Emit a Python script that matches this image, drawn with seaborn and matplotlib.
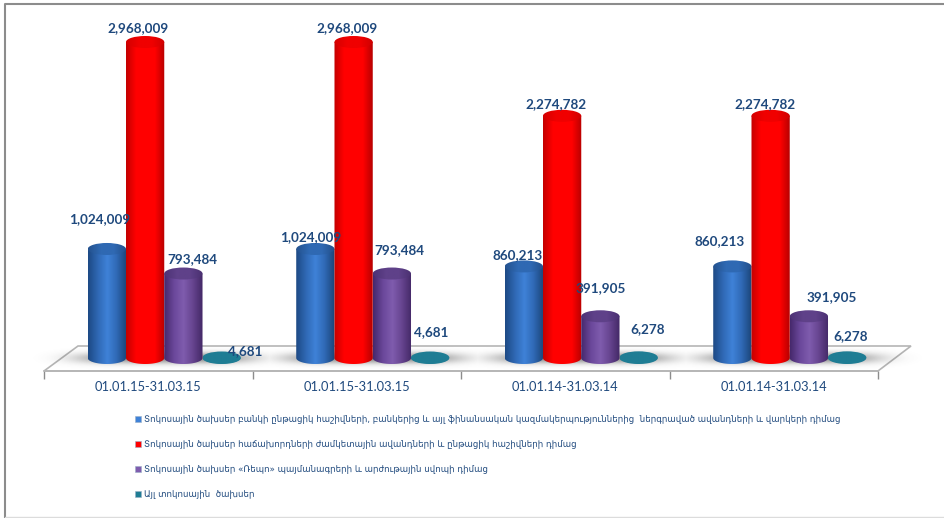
import numpy as np
import pandas as pd
import seaborn as sns
import matplotlib.pyplot as plt
from matplotlib.colors import LinearSegmentedColormap
from matplotlib.patches import Ellipse, PathPatch, Polygon, Patch
from matplotlib.path import Path

# data
periods = ["01.01.15-31.03.15", "01.01.15-31.03.15", "01.01.14-31.03.14", "01.01.14-31.03.14"]
series_names = [
    "Տոկոսային ծախսեր բանկի ընթացիկ հաշիվների, բանկերից և այլ ֆինանսական կազմակերպություններից  ներգրաված ավանդների և վարկերի դիմաց",
    "Տոկոսային ծախսեր հաճախորդների ժամկետային ավանդների և ընթացիկ հաշիվների դիմաց",
    "Տոկոսային ծախսեր «Ռեպո» պայմանագրերի և արժութային սվոպի դիմաց",
    "Այլ տոկոսային  ծախսեր",
]
interbank = [1024009, 1024009, 860213, 860213]
customers = [2968009, 2968009, 2274782, 2274782]
repo = [793484, 793484, 391905, 391905]
other = [4681, 4681, 6278, 6278]

# label shifts in pixels from the top of each bar, the source chart has them hand placed
label_dx = [[-7, -5, -6, -13], [-7, -7, -6, -6], [9, 7, 0, 23], [24, 1, 9, 3]]
label_dy = [[30, 12, 11, 25], [14, 14, 12, 12], [14, 23, 28, 19], [6, 25, 28, 21]]

cmaps = [
    ["#1d4a85", "#2f68b4", "#3f82d8", "#2f68b4", "#1b4578"],
    ["#c40000", "#ff0000", "#ff0000", "#ff0000", "#b80000"],
    ["#46296c", "#6a479a", "#7f5cae", "#66448f", "#432866"],
    ["#1f7d94", "#1f7d94", "#1f7d94", "#1f7d94", "#1f7d94"],
]
cap_cmaps = [
    ["#24528f", "#2f69b3", "#2f69b3", "#234f8a"],
    ["#d40000", "#f00000", "#f00000", "#d00000"],
    ["#4d3275", "#5f4189", "#5f4189", "#4a3071"],
    ["#1f7d94", "#1f7d94", "#1f7d94", "#1f7d94"],
]
text_col = "#1f497d"
W, H = 944, 518
base_px, scale_top_px = 358, 42
below_px = 14

sns.set_theme(style="white")
plt.rcParams["font.family"] = ["Lato", "DejaVu Sans"]

df = pd.DataFrame({
    "group": list(range(4)) * 4,
    "series": [n for n in series_names for _ in range(4)],
    "value": interbank + customers + repo + other,
})

fig = plt.figure(figsize=(W / 100, H / 100), dpi=100, facecolor="white")

def box(x0, y0, x1, y1):
    return [x0 / W, 1 - y1 / H, (x1 - x0) / W, (y1 - y0) / H]

# background layer in pixels: border, floor, shadows
bg = fig.add_axes([0, 0, 1, 1])
bg.set_xlim(0, W)
bg.set_ylim(H, 0)
bg.axis("off")
bg.plot([4.5, 4.5, W], [H, 3.5, 3.5], color="#8c8c8c", lw=1.5)
bg.plot([4.5, W], [517, 517], color="#dcdcdc", lw=1)
bg.add_patch(Polygon([(44, 371), (78, 346), (911, 346), (878, 371)], fc="white", ec="#b5b5b5", lw=1.2))
xx, yy = np.meshgrid(np.linspace(0, W, W), np.linspace(340, 372, 64))
shadow = np.zeros_like(xx)
for left in [78, 286.5, 495, 703.5]:
    cx = left + 87
    shadow = np.maximum(shadow, np.exp(-((np.abs(xx - cx) / 88) ** 4) - ((yy - 358) / 5.5) ** 2))
rgba = np.zeros(xx.shape + (4,))
rgba[..., :3] = 0.3
rgba[..., 3] = shadow * 0.65
bg.imshow(rgba, extent=(0, W, 372, 340), aspect="auto", zorder=2)
bg.set_xlim(0, W)
bg.set_ylim(H, 0)

# front edge of the floor with the category ticks
front = fig.add_axes(box(44, 300, 878, 371), facecolor="none")
front.set_xlim(-0.5, 3.5)
front.set_yticks([])
front.set_xticks(np.arange(-0.5, 4), minor=True)
front.set_xticks(range(4))
front.set_xticklabels(periods, fontsize=9.3, color=text_col)
front.tick_params(axis="x", which="major", length=0, pad=7.5)
front.tick_params(axis="x", which="minor", length=6, color="#8c8c8c", bottom=True)
for s in ["top", "left", "right"]:
    front.spines[s].set_visible(False)
front.spines["bottom"].set_color("#b5b5b5")
front.spines["bottom"].set_linewidth(1.2)

# bars
ax = fig.add_axes(box(60, scale_top_px - 30, 894, base_px + below_px), facecolor="none")
sns.barplot(data=df, x="group", y="value", hue="series", hue_order=series_names,
            palette=[c[2] for c in cmaps], width=0.734, gap=0, legend=False, ax=ax)
per_px = max(customers) / (base_px - scale_top_px)
ylims = (-below_px * per_px, (base_px - scale_top_px + 30) * per_px)
ax.set_xlim(-0.5, 3.5)
ax.set_ylim(*ylims)
ax.axis("off")

cap_h = 12 * per_px
heights = [interbank, customers, repo, other]
bars = sorted(ax.patches, key=lambda b: b.get_x())
bars = [b for b in bars if b.get_height() > 0]
for b in bars:
    b.set_visible(False)
bars_by_series = [[None] * 4 for _ in range(4)]
for i, b in enumerate(bars):
    bars_by_series[i % 4][i // 4] = b

for s, col in enumerate(cmaps):
    cmap = LinearSegmentedColormap.from_list("c%d" % s, col)
    cap_cmap = LinearSegmentedColormap.from_list("t%d" % s, cap_cmaps[s])
    for g in range(4):
        b = bars_by_series[s][g]
        x0, w, h = b.get_x(), b.get_width(), b.get_height()
        cx = x0 + w / 2
        z = 3 + g * 4 + s * 0.1
        t = np.linspace(np.pi, 2 * np.pi, 40)
        low = np.c_[cx + w / 2 * np.cos(t), cap_h / 2 * np.sin(t)]
        pts = np.vstack([low, [[x0 + w, h], [x0, h], low[0]]])
        body = PathPatch(Path(pts), fc="none", ec="none", transform=ax.transData)
        ax.add_patch(body)
        im = ax.imshow(np.linspace(0, 1, 64)[None, :], cmap=cmap, aspect="auto",
                       extent=(x0, x0 + w, -cap_h, h + cap_h), zorder=z)
        im.set_clip_path(body)
        top = Ellipse((cx, h), w, cap_h, fc="none", ec="none", transform=ax.transData)
        ax.add_patch(top)
        im2 = ax.imshow(np.linspace(0, 1, 64)[None, :], cmap=cap_cmap, aspect="auto",
                        extent=(x0, x0 + w, h - cap_h, h + cap_h), zorder=z + 0.05)
        im2.set_clip_path(top)
        ax.annotate(f"{heights[s][g]:,}", (cx, h), xytext=(label_dx[s][g], label_dy[s][g]),
                    textcoords="offset pixels", ha="center", va="center", color=text_col,
                    fontsize=9.7, fontweight="bold", zorder=50, annotation_clip=False)
ax.set_xlim(-0.5, 3.5)
ax.set_ylim(*ylims)

# legend
handles = [Patch(fc=c[2], ec="#9bb0c8", lw=0.4) for c in cmaps]
fig.legend(handles, series_names, loc="upper left", bbox_to_anchor=(135 / W, 1 - 415 / H),
           frameon=False, ncol=1, labelcolor=text_col, handlelength=0.7,
           handleheight=0.7, handletextpad=0.35, labelspacing=1.86, borderaxespad=0, borderpad=0,
           prop={"family": "DejaVu Sans", "size": 6.25})

fig.savefig("out.png", dpi=100)
